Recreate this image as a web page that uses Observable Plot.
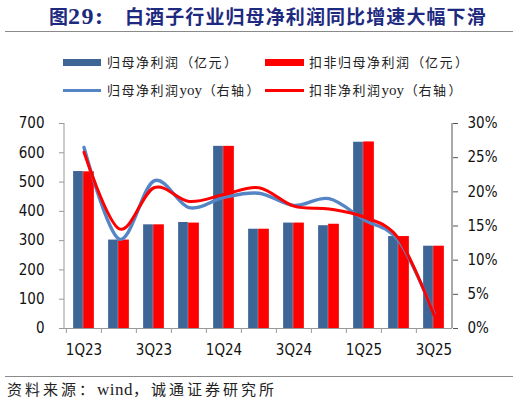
<!DOCTYPE html>
<html>
<head>
<meta charset="utf-8">
<script src="https://cdn.jsdelivr.net/npm/d3@7"></script>
<script src="https://cdn.jsdelivr.net/npm/@observablehq/plot@0.6"></script>
<style>
  body { margin: 0; background: #fff; }
  #wrap { position: relative; width: 519px; height: 406px; overflow: hidden; background: #fff;
          font-family: "Noto Sans CJK SC", sans-serif; color: #222; }
  .title { position: absolute; left: 49px; top: 2px; font-size: 19px; font-weight: bold; color: #1d2a80;
           white-space: nowrap; line-height: 28px; letter-spacing: 1.1px; }
  .title .num { font-family: "Liberation Serif", serif; font-size: 24px; letter-spacing: 1.5px; }
  .title .num .c { font-family: "Noto Sans CJK SC", sans-serif; font-size: 19px; letter-spacing: 0; }
  .title .main { position: absolute; left: 76px; top: 0; }
  .rule { position: absolute; left: 5px; width: 508px; height: 0; border-top: 1.5px solid #8a8a8a; }
  .leg { position: absolute; font-size: 13px; letter-spacing: 1.5px; white-space: nowrap; line-height: 18px; color: #222; }
  .leg .y { font-family: "Liberation Serif", serif; font-size: 15px; letter-spacing: 0; }
  .p { display: inline-block; width: 14.6px; text-align: center; letter-spacing: 0; }
  .sw { position: absolute; }
  #chart { position: absolute; left: 0; top: 100px; }
  .source { position: absolute; left: 7px; top: 379px; font-size: 15px; letter-spacing: 3px; white-space: nowrap; line-height: 20px; color: #222; }
  .source .w { font-family: "Liberation Serif", serif; font-size: 17px; letter-spacing: 0.5px; }
  .source .p2 { display: inline-block; width: 18px; text-align: left; letter-spacing: 0; }
</style>
</head>
<body>
<div id="wrap">
  <div class="title"><span class="num"><span class="c">图</span>29:</span><span class="main">白酒子行业归母净利润同比增速大幅下滑</span></div>
  <div class="rule" style="top:31px"></div>

  <div class="sw" style="left:63px;top:59px;width:38px;height:6.5px;background:#3d6596"></div>
  <div class="leg" style="left:107px;top:53px">归母净利润<span class="p">（</span>亿元<span class="p">）</span></div>
  <div class="sw" style="left:265px;top:59px;width:39px;height:6.5px;background:#ff0000"></div>
  <div class="leg" style="left:309px;top:53px">扣非归母净利润<span class="p">（</span>亿元<span class="p">）</span></div>

  <div class="sw" style="left:63px;top:88.5px;width:38px;height:3px;background:#5585c5"></div>
  <div class="leg" style="left:107px;top:81px">归母净利润<span class="y">yoy</span><span class="p">（</span>右轴<span class="p">）</span></div>
  <div class="sw" style="left:265px;top:88.5px;width:39px;height:3px;background:#ff0000"></div>
  <div class="leg" style="left:309px;top:81px">扣非净利润<span class="y">yoy</span><span class="p">（</span>右轴<span class="p">）</span></div>

  <div id="chart"></div>
  <div class="rule" style="top:376px"></div>
  <div class="source">资料来源<span class="p2">：</span><span class="w">wind</span><span class="p2">，</span>诚通证券研究所</div>
</div>
<script>
// Quarterly liquor-sector net profit (100m yuan) and year-on-year growth (%)
const quarters = ["1Q23","2Q23","3Q23","4Q23","1Q24","2Q24","3Q24","4Q24","1Q25","2Q25","3Q25"];
const profit = [536, 302, 354, 362, 622, 339, 360, 351, 636, 314, 281];
const profitDeducted = [535, 302, 354, 360, 622, 339, 360, 356, 637, 314, 281];
const profitYoy = [26.5, 13.1, 21.6, 17.7, 19.2, 19.8, 18.0, 19.0, 15.9, 12.8, 2.2];
const deductedYoy = [25.8, 14.6, 20.6, 18.6, 19.6, 20.6, 17.9, 17.5, 16.3, 13.1, 2.0];
const leftTicks = [0, 100, 200, 300, 400, 500, 600, 700];
const rightTicks = [0, 5, 10, 15, 20, 25, 30];
const xLabels = ["1Q23", "3Q23", "1Q24", "3Q24", "1Q25", "3Q25"];

const leftMax = 700, rightMax = 30;
const toLeft = p => p * leftMax / rightMax;

const rows = quarters.map((q, i) => ({
  q, profit: profit[i], deducted: profitDeducted[i],
  yoy: toLeft(profitYoy[i]), yoyDeducted: toLeft(deductedYoy[i])
}));

const W = 519, H = 270, mL = 64, mR = 67, mT = 23, mB = 42;
const bw = (W - mL - mR) / quarters.length;

const chart = Plot.plot({
  width: W, height: H,
  marginLeft: mL, marginRight: mR, marginTop: mT, marginBottom: mB,
  x: { type: "band", domain: quarters, padding: 0 },
  y: { domain: [0, leftMax] },
  style: { fontFamily: "DejaVu Sans Condensed, DejaVu Sans, sans-serif", fontSize: "15px", color: "#111", background: "transparent" },
  marks: [
    Plot.barY(rows, { x: "q", y: "profit", fill: "#3d6596", insetLeft: bw / 2 - 10.5, insetRight: bw / 2 + 0.5 }),
    Plot.barY(rows, { x: "q", y: "deducted", fill: "#ff0000", insetLeft: bw / 2 - 0.5, insetRight: bw / 2 - 10.5 }),
    Plot.line(rows, { x: "q", y: "yoy", stroke: "#5585c5", strokeWidth: 3.4, curve: "cardinal", tension: 0 }),
    Plot.line(rows, { x: "q", y: "yoyDeducted", stroke: "#ff0000", strokeWidth: 3, curve: "cardinal", tension: 0 }),
    Plot.axisY(leftTicks, { anchor: "left", tickSize: 5, tickPadding: 15, stroke: "#999", label: null }),
    Plot.axisY(rightTicks.map(toLeft), { anchor: "right", tickSize: 5, tickPadding: 10, stroke: "#555", label: null,
      tickFormat: d => Math.round(d * rightMax / leftMax) + "%" }),
    Plot.axisX(quarters, { tickSize: 5, dx: -bw / 2, stroke: "#999", tickFormat: () => "", label: null }),
    Plot.axisX(xLabels, { tickSize: 0, tickPadding: 16, label: null }),
    Plot.ruleY([0], { stroke: "#999" })
  ]
});

// vertical axis lines at both edges of the plotting area
const [x0, x1] = chart.scale("x").range;
const [y0, y1] = chart.scale("y").range;
const svg = d3.select(chart);
svg.append("line").attr("x1", x0).attr("x2", x0).attr("y1", y0).attr("y2", y1).attr("stroke", "#999");
svg.append("line").attr("x1", x1).attr("x2", x1).attr("y1", y0).attr("y2", y1).attr("stroke", "#555");

document.getElementById("chart").append(chart);
</script>
</body>
</html>
